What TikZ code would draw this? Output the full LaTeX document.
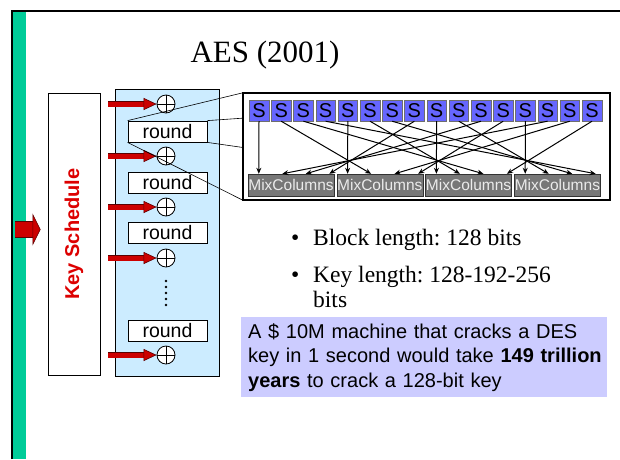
\documentclass[tikz,border=0pt]{standalone}
\usepackage{fontspec}
\setmainfont{Liberation Serif}
\setsansfont{Liberation Sans}
\frenchspacing
\usetikzlibrary{arrows.meta,calc}
\definecolor{slidegreen}{RGB}{0,204,153}
\definecolor{paleblue}{RGB}{204,236,255}
\definecolor{sblue}{RGB}{102,102,255}
\definecolor{sedge}{RGB}{110,110,110}
\definecolor{mcgrey}{RGB}{119,119,119}
\definecolor{mcedge}{RGB}{50,50,50}
\definecolor{mctext}{RGB}{235,235,235}
\definecolor{lavender}{RGB}{204,204,255}
\definecolor{ksred}{RGB}{221,0,0}
\definecolor{arrowred}{RGB}{204,0,0}
\definecolor{arrowdark}{RGB}{90,0,0}

\begin{document}
\begin{tikzpicture}[x=1pt, y=-1pt,
      sbox/.style={rectangle, draw=sedge, fill=sblue, minimum width=19.5pt,
                   minimum height=21pt, inner sep=0pt,
                   font=\sffamily\fontsize{20}{20}\selectfont},
      mixcol/.style={rectangle, draw=mcedge, fill=mcgrey, text=mctext,
                     minimum width=86pt, minimum height=22pt, inner sep=0pt,
                     font=\sffamily\fontsize{15.5}{15.5}\selectfont},
      rnd/.style={rectangle, draw, thick, fill=white, minimum width=79pt,
                  minimum height=21pt, inner sep=0pt,
                  font=\sffamily\fontsize{19.5}{19.5}\selectfont},
      xorop/.style={circle, draw, thick, fill=white, minimum size=18pt, inner sep=0pt,
                    path picture={\draw (path picture bounding box.north) -- (path picture bounding box.south)
                                        (path picture bounding box.west) -- (path picture bounding box.east);}},
      wire/.style={-{Stealth[length=6pt,width=5pt]}, line width=1pt},
      keyarrow/.style={draw=arrowred, line width=5pt,
                       preaction={draw=arrowdark, line width=6.4pt, -, shorten >=12pt},
                       -{Triangle[length=13pt, width=12pt, line width=0.6pt, fill=arrowred, color=arrowdark]}},
      bullet/.style={font=\fontsize{23.5}{25}\selectfont, inner sep=0pt},
      infobox/.style={fill=lavender, text width=352pt, inner xsep=7pt, inner ysep=0pt,
                      minimum height=80pt, align=left,
                      font=\sffamily\fontsize{20}{24.5}\selectfont}]
    \useasboundingbox (0,0) rectangle (620,459);
    % slide frame
    \fill[slidegreen] (13,12) rectangle (26,459);
    \draw[line width=2.5pt] (12,459) -- (12,11) -- (620,11);
    \node[font=\fontsize{31}{31}\selectfont] (title) at (265,55) {AES (2001)};
    % key schedule
    \node[draw, thick, fill=white, minimum width=52pt, minimum height=282pt] (ks) at (74,234) {};
    \node[rotate=90, text=ksred, font=\sffamily\bfseries\fontsize{20}{20}\selectfont] at (ks.center) {Key Schedule};
    % round column
    \node[draw, thick, fill=paleblue, minimum width=104pt, minimum height=287pt] (rounds) at (167,232.5) {};
    \foreach \y/\name in {131.5/1, 182.5/2, 233/3, 330.5/4}{
      \node[rnd] (r\name) at (167.5,\y) {round};
    }
    \foreach \y/\name in {104/1, 156/2, 207/3, 258/4, 355/5}{
      \node[xorop] (x\name) at (166,\y) {};
    }
    \foreach \k in {0,...,4}
      \fill (166,281+6*\k) circle (1.3pt);
    % round keys
    \foreach \name in {1,...,5}{
      \draw[keyarrow] ($(x\name.west -| ks.east)+(8,0)$) -- (x\name.west);
    }
    \coordinate (kin) at (15,229.5);
    \draw[draw=arrowred, line width=15pt,
          preaction={draw=arrowdark, line width=16.4pt, -, shorten >=7pt},
          -{Triangle[length=8pt, width=32pt, line width=0.6pt, fill=arrowred, color=arrowdark]}]
      (kin) -- ($(kin -| ks.west)+(-7,0)$);
    % zoom onto one round
    \node[minimum width=367pt, minimum height=107pt, inner sep=0pt] (detail) at (426.5,146.5) {};
    \draw[line width=0.6pt] (r1.north west) -- (detail.north west)
                            (r1.south west) -- (detail.south west)
                            (r1.north east) -- (detail.north east)
                            (r1.south east) -- (detail.south east);
    \draw[line width=1.6pt, fill=white] (detail.north west) rectangle (detail.south east);
    \foreach \i in {0,...,15}
      \node[sbox] (s\i) at (259+22.2*\i,110.5) {S};
    \foreach \j in {0,...,3}
      \node[mixcol] (m\j) at (291+88.8*\j,185) {MixColumns};
    % shift rows wiring
    \foreach \i in {0,...,15}{
      \pgfmathtruncatemacro{\scol}{floor(\i/4)}
      \pgfmathtruncatemacro{\srow}{mod(\i,4)}
      \pgfmathtruncatemacro{\dst}{mod(\scol+\srow,4)}
      \draw[wire] (s\i.south) -- ($(m\dst.north west)+(11+23.5*\srow,0)$);
    }
    % bullets
    \node[bullet, anchor=base west] (b1) at (313,245) {Block length: 128 bits};
    \node[bullet, anchor=base west] (b2) at (313,282) {Key length: 128-192-256};
    \node[bullet, anchor=base west] (b2more) at (313,307) {bits};
    \node[bullet, anchor=base west] (b1dot) at (291,245) {\textbullet};
    \node[bullet, anchor=base west] (b2dot) at (291,282) {\textbullet};
    % note
    \node[infobox, anchor=north west] (note) at (241,317)
      {\mbox{A \$ 10M machine that cracks a DES}\\
       \mbox{key in 1 second would take \textbf{149 trillion}}\\
       \mbox{\textbf{years} to crack a 128-bit key}};
  \end{tikzpicture}
\end{document}
